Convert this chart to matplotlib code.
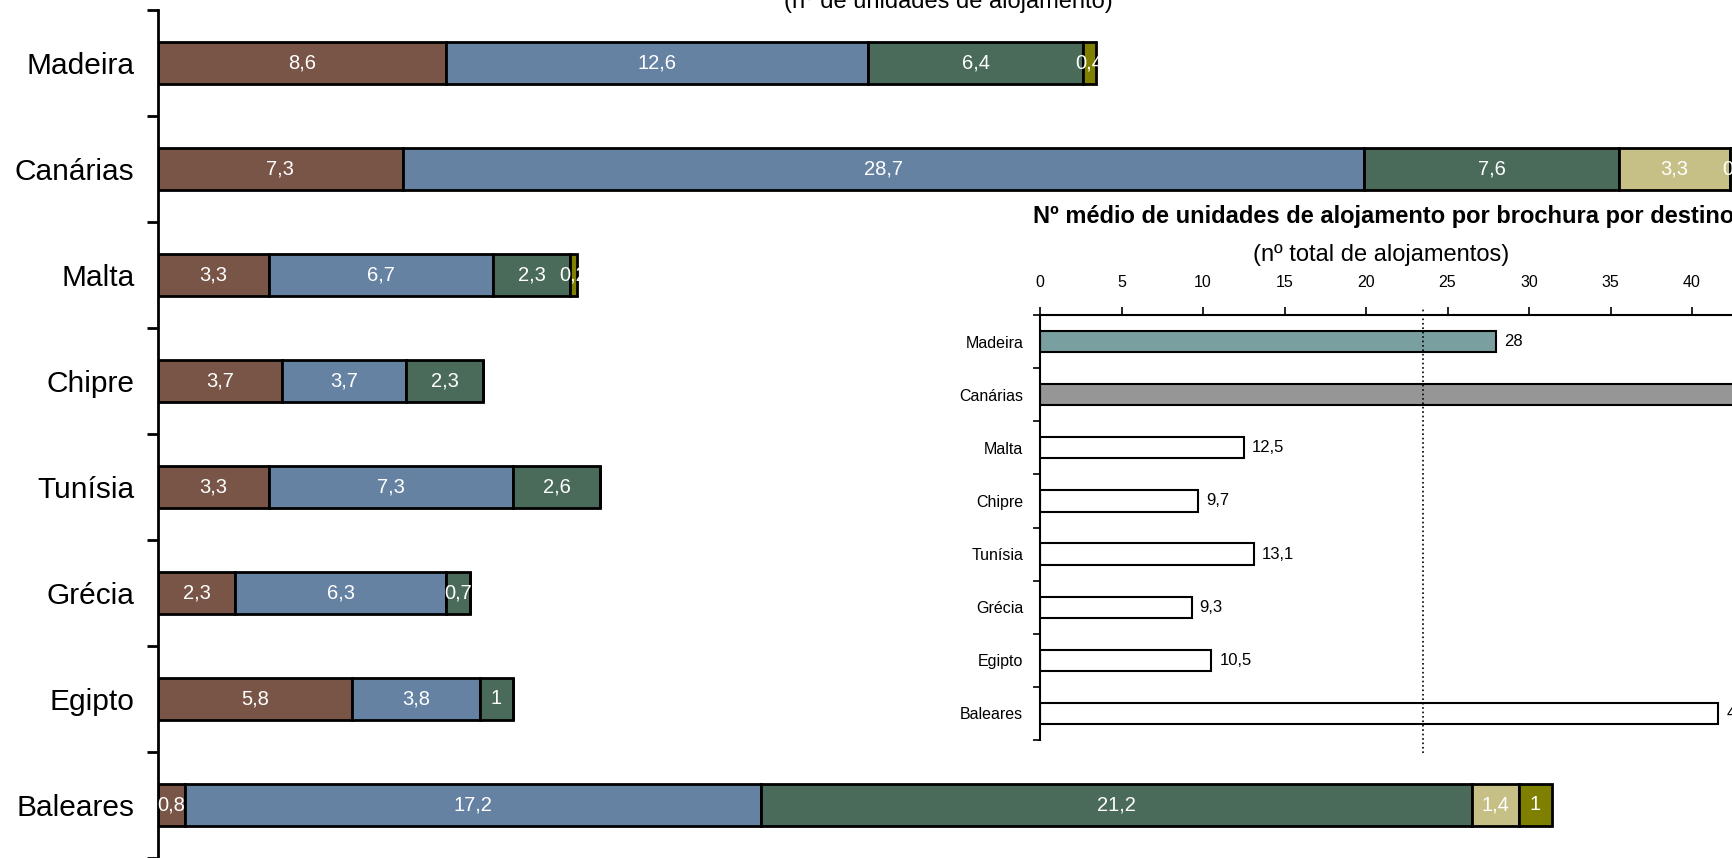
import matplotlib.pyplot as plt
import numpy as np

plt.rcParams['font.family'] = ['Liberation Sans', 'DejaVu Sans']

destinos = ['Madeira', 'Canárias', 'Malta', 'Chipre', 'Tunísia', 'Grécia', 'Egipto', 'Baleares']

# unidades de alojamento por tipo (segmentos empilhados)
serie1 = [8.6, 7.3, 3.3, 3.7, 3.3, 2.3, 5.8, 0.8]
serie2 = [12.6, 28.7, 6.7, 3.7, 7.3, 6.3, 3.8, 17.2]
serie3 = [6.4, 7.6, 2.3, 2.3, 2.6, 0.7, 1.0, 21.2]
serie4 = [0, 3.3, 0, 0, 0, 0, 0, 1.4]
serie5 = [0.4, 0.4, 0.2, 0, 0, 0, 0, 1.0]
cores = ['#795548', '#6682a3', '#4a6b5a', '#c6c086', '#808000']

# nº total de alojamentos por destino
totais = [28, 47.3, 12.5, 9.7, 13.1, 9.3, 10.5, 41.6]
media = 23.5
cores_totais = ['#7a9fa0', '#969696'] + ['white'] * 6


def fmt(v):
    s = f'{v:.1f}'.replace('.', ',')
    return s[:-2] if s.endswith(',0') else s


fig = plt.figure(figsize=(17.33, 8.58), dpi=100)

ax = fig.add_axes([158 / 1733, 0, 1 - 158 / 1733, 1 - 10 / 858])
y = np.arange(len(destinos))
esq = np.zeros(len(destinos))
for vals, cor in zip([serie1, serie2, serie3, serie4, serie5], cores):
    vals = np.array(vals)
    ax.barh(y, vals, left=esq, height=0.4, color=cor, edgecolor='black', linewidth=2)
    for yi, (l, v) in enumerate(zip(esq, vals)):
        if v > 0:
            ax.text(l + v / 2, yi, fmt(v), color='white', ha='center', va='center', fontsize=14.5)
    esq += vals

ax.set_xlim(0, 47.0)
ax.set_ylim(7.5, -0.5)
ax.set_yticks(y)
ax.set_yticklabels(destinos, fontsize=21.5)
ax.tick_params(axis='y', which='major', length=0, pad=17)
ax.set_yticks(np.arange(-0.5, 8, 1), minor=True)
ax.tick_params(axis='y', which='minor', length=8, width=2, direction='out')
ax.set_xticks([])
for s in ['top', 'right', 'bottom']:
    ax.spines[s].set_visible(False)
ax.spines['left'].set_linewidth(2)
ax.patch.set_alpha(0)

fig.text(948 / 1733, 1 - 2 / 858, '(nº de unidades de alojamento)', ha='center', va='center', fontsize=17)

# gráfico interior: totais por destino
ins = fig.add_axes([1040 / 1733, 1 - 740 / 858, 1 - 1040 / 1733, 425 / 858])
ins.barh(y, totais, height=0.4, color=cores_totais, edgecolor='black', linewidth=1.5)
for yi, t in enumerate(totais):
    ins.text(t + 0.5, yi, fmt(t), ha='left', va='center', fontsize=12)
ins.axvline(media, color='black', linestyle=':', linewidth=1.2, ymin=-0.03, ymax=1.02, clip_on=False)
ins.set_xlim(0, 693 / 16.3)
ins.set_ylim(7.5, -0.5)
ins.xaxis.tick_top()
ins.set_xticks(np.arange(0, 45, 5))
ins.tick_params(axis='x', length=6, width=1.2, labelsize=11.5, pad=12)
ins.set_yticks(y)
ins.set_yticklabels(destinos, fontsize=11.5)
ins.tick_params(axis='y', which='major', length=0, pad=12)
ins.set_yticks(np.arange(-0.5, 8, 1), minor=True)
ins.tick_params(axis='y', which='minor', length=5, width=1.2)
for s in ['right', 'bottom']:
    ins.spines[s].set_visible(False)
ins.spines['top'].set_linewidth(1.5)
ins.spines['left'].set_linewidth(1.5)
ins.patch.set_alpha(0)

fig.text(1033 / 1733, 1 - 217 / 858, 'Nº médio de unidades de alojamento por brochura por destino',
         ha='left', va='center', fontsize=17, fontweight='bold')
fig.text(1381 / 1733, 1 - 255 / 858, '(nº total de alojamentos)', ha='center', va='center', fontsize=17)

fig.savefig('out.png', dpi=100)
